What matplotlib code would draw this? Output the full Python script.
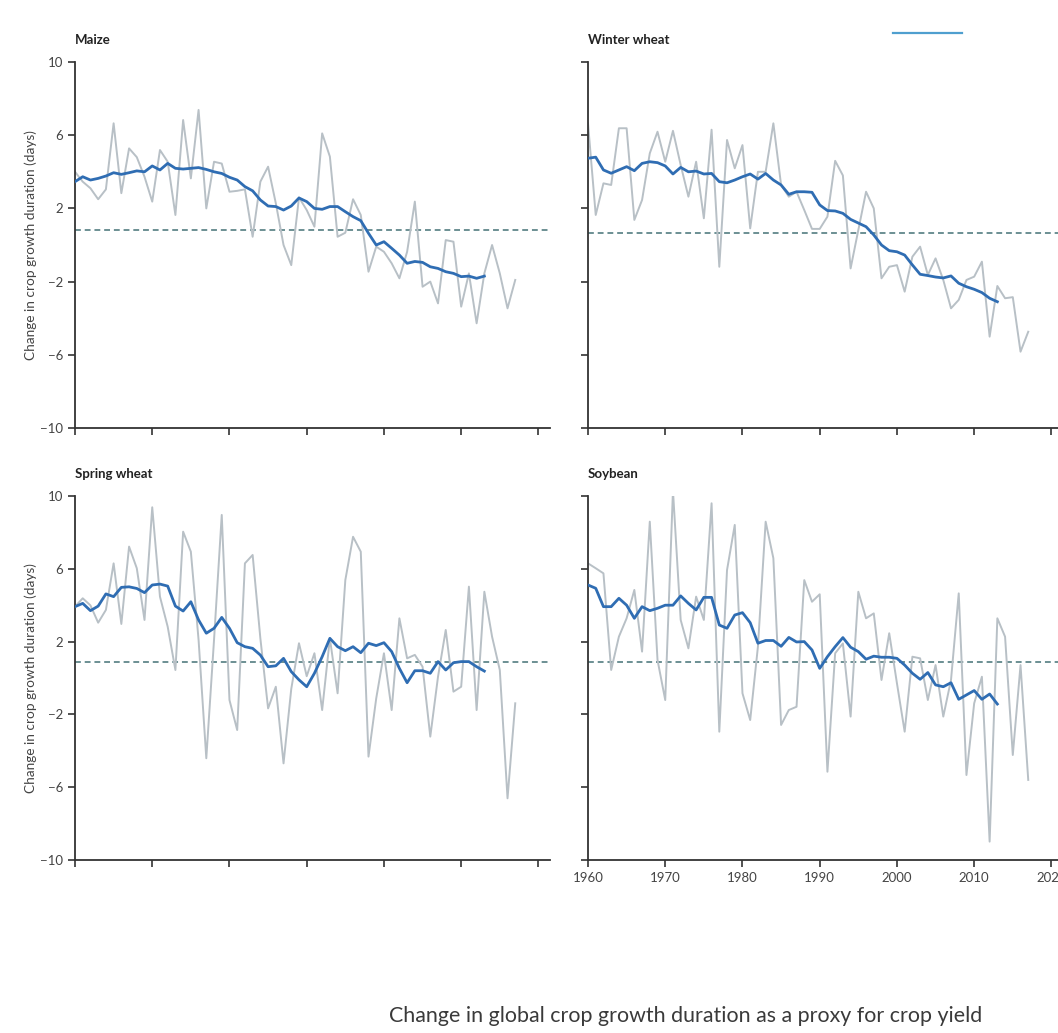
import numpy as np
import matplotlib
matplotlib.use("Agg")
import matplotlib.pyplot as plt
from matplotlib.lines import Line2D

plt.rcParams['font.family'] = ['Lato', 'DejaVu Sans']

years_raw = np.arange(1960, 2018)
years_smooth = np.arange(1960, 2014)

# annual values (grey) and smoothed trend (blue), days
maize_raw = [4.0, 3.46, 3.1, 2.5, 3.04, 6.65, 2.83, 5.28, 4.8, 3.73,
             2.37, 5.19, 4.55, 1.64, 6.83, 3.64, 7.38, 2.0, 4.55, 4.45,
             2.91, 2.96, 3.04, 0.45, 3.46, 4.28, 2.28, 0.0, -1.1, 2.6,
             1.91, 1.0, 6.1, 4.83, 0.45, 0.67, 2.5, 1.64, -1.46, -0.09,
             -0.37, -1.0, -1.82, -0.37, 2.37, -2.28, -2.0, -3.19, 0.27, 0.18,
             -3.37, -1.55, -4.28, -1.55, 0.0, -1.55, -3.46, -1.91]
maize_smooth = [3.46, 3.73, 3.55, 3.64, 3.77, 3.95, 3.86, 3.95, 4.05, 4.0,
                4.32, 4.1, 4.46, 4.19, 4.15, 4.19, 4.23, 4.13, 4.0, 3.91,
                3.7, 3.55, 3.19, 2.96, 2.46, 2.13, 2.1, 1.91, 2.13, 2.57,
                2.37, 2.0, 1.95, 2.1, 2.1, 1.82, 1.55, 1.33, 0.64, 0.0,
                0.18, -0.18, -0.55, -1.0, -0.9, -0.95, -1.19, -1.28, -1.46, -1.55,
                -1.73, -1.7, -1.82, -1.7]

winter_raw = [6.65, 1.64, 3.37, 3.28, 6.38, 6.38, 1.37, 2.46, 5.01, 6.19,
              4.55, 6.24, 4.37, 2.64, 4.55, 1.46, 6.3, -1.19, 5.74, 4.19,
              5.46, 0.91, 4.0, 4.0, 6.65, 3.28, 2.64, 2.91, 1.91, 0.88,
              0.88, 1.55, 4.6, 3.8, -1.28, 0.82, 2.91, 2.0, -1.82, -1.19,
              -1.1, -2.55, -0.64, -0.09, -1.64, -0.73, -1.91, -3.46, -3.0, -1.91,
              -1.73, -0.91, -5.01, -2.24, -2.91, -2.85, -5.83, -4.74]
winter_smooth = [4.74, 4.8, 4.1, 3.92, 4.1, 4.28, 4.06, 4.46, 4.55, 4.5,
                 4.32, 3.88, 4.24, 4.0, 4.04, 3.88, 3.91, 3.46, 3.4, 3.55,
                 3.73, 3.88, 3.6, 3.91, 3.55, 3.28, 2.77, 2.91, 2.91, 2.88,
                 2.19, 1.88, 1.86, 1.73, 1.4, 1.2, 1.0, 0.55, 0.0, -0.31,
                 -0.37, -0.55, -1.09, -1.6, -1.67, -1.75, -1.8, -1.69, -2.09, -2.28,
                 -2.42, -2.6, -2.91, -3.1]

spring_raw = [3.92, 4.38, 3.99, 3.04, 3.74, 6.3, 2.97, 7.22, 6.03, 3.19,
              9.38, 4.47, 2.82, 0.44, 8.04, 6.94, 2.09, -4.41, 2.09, 8.96,
              -1.21, -2.86, 6.3, 6.76, 2.18, -1.67, -0.48, -4.69, -0.6, 1.91,
              0.1, 1.36, -1.76, 2.18, -0.84, 5.38, 7.76, 6.94, -4.32, -1.12,
              1.36, -1.76, 3.28, 1.08, 1.27, 0.62, -3.22, 0.07, 2.64, -0.75,
              -0.48, 5.02, -1.76, 4.74, 2.27, 0.44, -6.61, -1.39]
spring_smooth = [3.92, 4.1, 3.7, 3.95, 4.62, 4.47, 4.98, 5.01, 4.92, 4.69,
                 5.11, 5.16, 5.05, 3.95, 3.68, 4.19, 3.19, 2.46, 2.73, 3.33,
                 2.73, 1.94, 1.72, 1.63, 1.26, 0.62, 0.67, 1.08, 0.35, -0.1,
                 -0.48, 0.26, 1.17, 2.18, 1.72, 1.5, 1.72, 1.39, 1.91, 1.78,
                 1.94, 1.45, 0.53, -0.26, 0.4, 0.4, 0.26, 0.9, 0.44, 0.84,
                 0.9, 0.9, 0.62, 0.38]

soy_raw = [6.3, 6.03, 5.75, 0.44, 2.27, 3.28, 4.84, 1.45, 8.59, 0.99,
           -1.21, 10.3, 3.19, 1.63, 4.47, 3.19, 9.6, -2.95, 5.93, 8.41,
           -0.84, -2.31, 1.72, 8.59, 6.58, -2.58, -1.76, -1.58, 5.38, 4.19,
           4.6, -5.15, 1.36, 1.9, -2.12, 4.74, 3.28, 3.55, -0.11, 2.46,
           -0.29, -2.95, 1.17, 1.08, -1.21, 0.71, -2.12, -0.11, 4.65, -5.33,
           -1.39, 0.07, -8.99, 3.28, 2.27, -4.23, 0.71, -5.6]
soy_smooth = [5.11, 4.93, 3.92, 3.92, 4.38, 4.0, 3.28, 3.92, 3.7, 3.83,
              4.0, 4.0, 4.51, 4.1, 3.74, 4.43, 4.43, 2.91, 2.73, 3.46,
              3.59, 3.04, 1.91, 2.06, 2.06, 1.74, 2.23, 1.98, 2.0, 1.54,
              0.53, 1.17, 1.72, 2.22, 1.69, 1.45, 1.03, 1.2, 1.14, 1.14,
              1.08, 0.71, 0.26, -0.07, 0.3, -0.38, -0.48, -0.26, -1.17, -0.93,
              -0.69, -1.17, -0.88, -1.43]

# dashed reference level per panel
baselines = [0.82, 0.66, 0.9, 0.9]

panel_titles = ['Maize', 'Winter wheat', 'Spring wheat', 'Soybean']
raw_series = [maize_raw, winter_raw, spring_raw, soy_raw]
smooth_series = [maize_smooth, winter_smooth, spring_smooth, soy_smooth]
y_ticks = [10, 6, 2, -2, -6, -10]
x_ticks = [1960, 1970, 1980, 1990, 2000, 2010, 2020]

grey = '#b8c0c6'
blue = '#2f6db3'
dash_col = '#6b8f93'
spine_col = '#333333'
text_col = '#444444'

W, H = 1058, 1033
fig = plt.figure(figsize=(W / 100, H / 100), dpi=100)

# axes boxes in pixels: left, top, right, bottom
boxes = [(75, 62, 550, 428), (588, 62, 1063, 428),
         (75, 496, 550, 860), (588, 496, 1063, 860)]

for i, (l, t, r, b) in enumerate(boxes):
    ax = fig.add_axes([l / W, 1 - b / H, (r - l) / W, (b - t) / H])
    ax.plot(years_raw, raw_series[i], color=grey, lw=1.4, zorder=2)
    ax.plot(years_smooth, smooth_series[i], color=blue, lw=2.0, zorder=3)
    ax.axhline(baselines[i], color=dash_col, lw=1.4, ls=(0, (3, 2)), zorder=1)

    ax.set_xlim(1960, 2021.5)
    ax.set_ylim(-10, 10)
    ax.set_yticks(y_ticks)
    ax.set_xticks(x_ticks)
    for s in ['top', 'right']:
        ax.spines[s].set_visible(False)
    for s in ['left', 'bottom']:
        ax.spines[s].set_color(spine_col)
        ax.spines[s].set_linewidth(1.3)
    ax.tick_params(axis='both', direction='out', length=5, width=1.2,
                   color=spine_col, labelsize=9.5, labelcolor=text_col)

    if i % 2 == 0:
        ax.set_ylabel('Change in crop growth duration (days)', fontsize=9.8,
                      color=text_col, labelpad=2)
    else:
        ax.set_yticklabels([])
    if i != 3:
        ax.set_xticklabels([])

    ax.text(0.0, 1 + 22 / (b - t), panel_titles[i], transform=ax.transAxes,
            ha='left', va='center', fontsize=9.5, fontweight='bold',
            color='#222222')

# fragment of the legend key visible at top right
fig.add_artist(Line2D([893 / W, 962 / W], [1 - 33 / H, 1 - 33 / H],
                      color='#4f9fcf', lw=1.6))

fig.text(686 / W, 1 - 1016 / H,
         'Change in global crop growth duration as a proxy for crop yield',
         ha='center', va='center', fontsize=15.4, color='#3a3a3a')

fig.savefig('out.png', dpi=100)
